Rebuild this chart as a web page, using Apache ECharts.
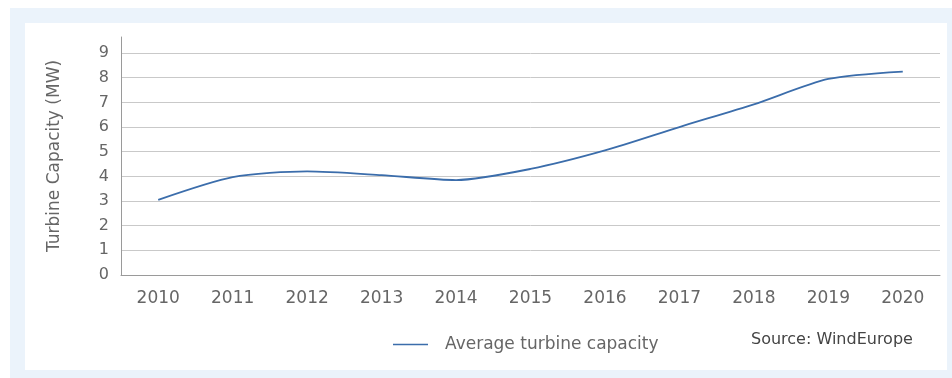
<!DOCTYPE html>
<html>
<head>
<meta charset="utf-8">
<script src="https://cdn.jsdelivr.net/npm/echarts@6/dist/echarts.min.js"></script>
<style>
  html, body { margin: 0; padding: 0; background: #ffffff; }
  #frame { position: absolute; left: 10px; top: 8px; width: 942px; height: 370px; background: #ebf3fb; }
  #panel { position: absolute; left: 25px; top: 23px; width: 922px; height: 347px; background: #ffffff; }
  #chart { position: absolute; left: 0; top: 0; width: 952px; height: 378px; }
</style>
</head>
<body>
<div id="frame"></div>
<div id="panel"></div>
<div id="chart"></div>
<script>
// Average capacity of newly installed turbines, per year
const years = ['2010', '2011', '2012', '2013', '2014', '2015', '2016', '2017', '2018', '2019', '2020'];
const avgCapacity = [3.05, 3.97, 4.2, 4.05, 3.85, 4.3, 5.05, 6.0, 6.92, 7.95, 8.25];
const seriesName = 'Average turbine capacity';
const axisTitle = 'Turbine Capacity (MW)';
const sourceNote = 'Source: WindEurope';

const FONT = 'DejaVu Sans';
const chart = echarts.init(document.getElementById('chart'));

// grid lines at 0..9; the axis runs a little higher with no line at its top
const gridColors = ['#c9c9c9', '#c9c9c9', '#c9c9c9', '#c9c9c9', '#c9c9c9',
  '#c9c9c9', '#c9c9c9', '#c9c9c9', '#c9c9c9', '#c9c9c9', 'rgba(0,0,0,0)'];

chart.setOption({
  animation: false,
  backgroundColor: 'transparent',
  textStyle: { fontFamily: FONT },
  grid: { left: 121, right: 12, top: 37, bottom: 103, containLabel: false },
  xAxis: {
    type: 'category',
    data: years,
    boundaryGap: true,
    axisLine: { show: true, lineStyle: { color: '#9a9a9a', width: 1 } },
    axisTick: { show: false },
    axisLabel: { color: '#666666', fontSize: 17, margin: 15, fontFamily: FONT }
  },
  yAxis: {
    type: 'value',
    min: 0,
    max: 9.65,
    interval: 1,
    name: axisTitle,
    nameLocation: 'middle',
    nameGap: 58,
    nameRotate: 90,
    nameTextStyle: { color: '#666666', fontSize: 17, fontFamily: FONT },
    axisLine: { show: true, lineStyle: { color: '#9a9a9a', width: 1 } },
    axisTick: { show: false },
    axisLabel: { color: '#666666', fontSize: 16, margin: 12, showMaxLabel: false, fontFamily: FONT },
    splitLine: { show: true, lineStyle: { color: gridColors, width: 1 } }
  },
  legend: {
    data: [seriesName],
    left: 388,
    top: 331,
    icon: 'rect',
    itemWidth: 35,
    itemHeight: 1.5,
    itemGap: 10,
    textStyle: { color: '#666666', fontSize: 17, fontFamily: FONT, padding: [0, 0, 0, 12] }
  },
  graphic: [{
    type: 'text',
    left: 751,
    top: 332,
    style: { text: sourceNote, fill: '#444444', fontSize: 16, fontFamily: FONT }
  }],
  series: [{
    name: seriesName,
    type: 'line',
    data: avgCapacity,
    smooth: 0.25,
    symbol: 'none',
    lineStyle: { color: '#3b6dab', width: 1.8 },
    itemStyle: { color: '#3b6dab' }
  }]
});
</script>
</body>
</html>
